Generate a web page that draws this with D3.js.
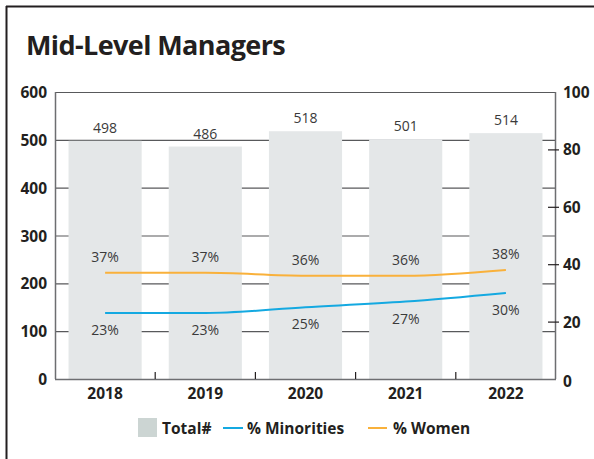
<!DOCTYPE html>
<html>
<head>
<meta charset="utf-8">
<script src="https://cdn.jsdelivr.net/npm/d3@7"></script>
<style>
  body { margin: 0; background: #fff; }
  text { font-family: "Open Sans", "Noto Sans", sans-serif; }
</style>
</head>
<body>
<div id="chart"></div>
<script>
var width = 594,
    height = 459;

// data
var years = ["2018", "2019", "2020", "2021", "2022"];
var totals = [498, 486, 518, 501, 514];
var minorities = [23, 23, 25, 27, 30];
var women = [37, 37, 36, 36, 38];
var leftTicks = [0, 100, 200, 300, 400, 500, 600];
var rightTicks = [0, 20, 40, 60, 80, 100];

var margin = {top: 92, right: 38, bottom: 80, left: 55};

var svg = d3.select("#chart").append("svg")
    .attr("width", width)
    .attr("height", height);

// frame lines (left + top)
svg.append("line")
    .attr("x1", 6.5).attr("x2", 6.5).attr("y1", 6).attr("y2", height)
    .attr("stroke", "#231f20").attr("stroke-width", 2);
svg.append("line")
    .attr("x1", 6).attr("x2", width).attr("y1", 6.5).attr("y2", 6.5)
    .attr("stroke", "#231f20").attr("stroke-width", 2);

svg.append("text")
    .attr("x", 26)
    .attr("y", 55)
    .attr("font-size", 27)
    .attr("font-weight", "bold")
    .attr("letter-spacing", -0.6)
    .attr("fill", "#231f20")
    .text("Mid-Level Managers");

var x = d3.scaleBand()
    .domain(years)
    .range([margin.left, width - margin.right])
    .paddingInner(0.27)
    .paddingOuter(0.135);

var y = d3.scaleLinear()
    .domain([0, 600])
    .range([height - margin.bottom, margin.top]);

var y2 = d3.scaleLinear()
    .domain([0, 100])
    .range([height - margin.bottom, margin.top]);

var x0 = margin.left, x1 = width - margin.right;

// grid lines
svg.selectAll(".grid")
    .data(leftTicks.slice(1))
    .enter().append("line")
    .attr("class", "grid")
    .attr("x1", x0).attr("x2", x1)
    .attr("y1", function(d){ return y(d) + 0.5; })
    .attr("y2", function(d){ return y(d) + 0.5; })
    .attr("stroke", "#58595b")
    .attr("stroke-width", 1.2);

// bars
svg.selectAll(".bar")
    .data(years)
    .enter().append("rect")
    .attr("class", "bar")
    .attr("x", function(d){ return x(d); })
    .attr("width", x.bandwidth())
    .attr("y", function(d, i){ return y(totals[i]); })
    .attr("height", function(d, i){ return y(0) - y(totals[i]); })
    .attr("fill", "#e4e7e8");

svg.selectAll(".barlabel")
    .data(years)
    .enter().append("text")
    .attr("class", "barlabel")
    .attr("x", function(d){ return x(d) + x.bandwidth() / 2; })
    .attr("y", function(d, i){ return y(totals[i]) - 8; })
    .attr("text-anchor", "middle")
    .attr("font-size", 14)
    .attr("fill", "#3a3a3a")
    .text(function(d, i){ return totals[i]; });

// axis lines
svg.append("line")
    .attr("x1", x0 + 0.5).attr("x2", x0 + 0.5)
    .attr("y1", y(600)).attr("y2", y(0))
    .attr("stroke", "#6d6e71").attr("stroke-width", 1.5);
svg.append("line")
    .attr("x1", x1 - 0.5).attr("x2", x1 - 0.5)
    .attr("y1", y(600)).attr("y2", y(0))
    .attr("stroke", "#6d6e71").attr("stroke-width", 1.5);
svg.append("line")
    .attr("x1", x0).attr("x2", x1)
    .attr("y1", y(0) + 0.5).attr("y2", y(0) + 0.5)
    .attr("stroke", "#6d6e71").attr("stroke-width", 1.5);

// x ticks at band boundaries
svg.selectAll(".xtick")
    .data(years.slice(1))
    .enter().append("line")
    .attr("class", "xtick")
    .attr("x1", function(d){ return x(d) - x.step() * x.paddingInner() / 2; })
    .attr("x2", function(d){ return x(d) - x.step() * x.paddingInner() / 2; })
    .attr("y1", y(0) - 7).attr("y2", y(0))
    .attr("stroke", "#231f20").attr("stroke-width", 1.2);

// right ticks
svg.selectAll(".rtick")
    .data(rightTicks.slice(1, -1))
    .enter().append("line")
    .attr("class", "rtick")
    .attr("x1", x1 - 8).attr("x2", x1 + 3)
    .attr("y1", function(d){ return y2(d) + 0.5; })
    .attr("y2", function(d){ return y2(d) + 0.5; })
    .attr("stroke", "#231f20").attr("stroke-width", 1.2);

// axis labels
svg.selectAll(".ylab")
    .data(leftTicks)
    .enter().append("text")
    .attr("class", "ylab")
    .attr("x", 47)
    .attr("y", function(d){ return y(d) + 6; })
    .attr("text-anchor", "end")
    .attr("font-size", 15.5)
    .attr("font-weight", "bold")
    .attr("fill", "#231f20")
    .text(function(d){ return d; });

svg.selectAll(".y2lab")
    .data(rightTicks)
    .enter().append("text")
    .attr("class", "y2lab")
    .attr("x", 563)
    .attr("y", function(d){ return y2(d) + 6 + (d === 0 ? 2 : 0); })
    .attr("font-size", 15.5)
    .attr("font-weight", "bold")
    .attr("fill", "#231f20")
    .text(function(d){ return d; });

svg.selectAll(".xlab")
    .data(years)
    .enter().append("text")
    .attr("class", "xlab")
    .attr("x", function(d){ return x(d) + x.bandwidth() / 2; })
    .attr("y", 399)
    .attr("text-anchor", "middle")
    .attr("font-size", 15.5)
    .attr("font-weight", "bold")
    .attr("fill", "#231f20")
    .text(function(d){ return d; });

// lines
var line = d3.line()
    .x(function(d, i){ return x(years[i]) + x.bandwidth() / 2; })
    .y(function(d){ return y2(d); })
    .curve(d3.curveMonotoneX);

svg.append("path")
    .datum(women)
    .attr("d", line)
    .attr("fill", "none")
    .attr("stroke", "#f9b13b")
    .attr("stroke-width", 2);

svg.append("path")
    .datum(minorities)
    .attr("d", line)
    .attr("fill", "none")
    .attr("stroke", "#14a9e1")
    .attr("stroke-width", 2);

svg.selectAll(".wlab")
    .data(women)
    .enter().append("text")
    .attr("class", "wlab")
    .attr("x", function(d, i){ return x(years[i]) + x.bandwidth() / 2; })
    .attr("y", function(d){ return y2(d) - 11; })
    .attr("text-anchor", "middle")
    .attr("font-size", 14)
    .attr("fill", "#3a3a3a")
    .text(function(d){ return d + "%"; });

svg.selectAll(".mlab")
    .data(minorities)
    .enter().append("text")
    .attr("class", "mlab")
    .attr("x", function(d, i){ return x(years[i]) + x.bandwidth() / 2; })
    .attr("y", function(d){ return y2(d) + 22; })
    .attr("text-anchor", "middle")
    .attr("font-size", 14)
    .attr("fill", "#3a3a3a")
    .text(function(d){ return d + "%"; });

// legend
var lg = svg.append("g").attr("transform", "translate(138,418)");
lg.append("rect")
    .attr("width", 19).attr("height", 19)
    .attr("fill", "#ccd5d3");
lg.append("text")
    .attr("x", 24).attr("y", 16)
    .attr("font-size", 15.5).attr("font-weight", "bold").attr("fill", "#231f20")
    .text("Total#");
lg.append("line")
    .attr("x1", 85).attr("x2", 105).attr("y1", 10).attr("y2", 10)
    .attr("stroke", "#14a9e1").attr("stroke-width", 2);
lg.append("text")
    .attr("x", 109).attr("y", 16)
    .attr("font-size", 15.5).attr("font-weight", "bold").attr("fill", "#231f20")
    .text("% Minorities");
lg.append("line")
    .attr("x1", 230).attr("x2", 249).attr("y1", 10).attr("y2", 10)
    .attr("stroke", "#f9b13b").attr("stroke-width", 2);
lg.append("text")
    .attr("x", 255).attr("y", 16)
    .attr("font-size", 15.5).attr("font-weight", "bold").attr("fill", "#231f20")
    .text("% Women");
</script>
</body>
</html>
